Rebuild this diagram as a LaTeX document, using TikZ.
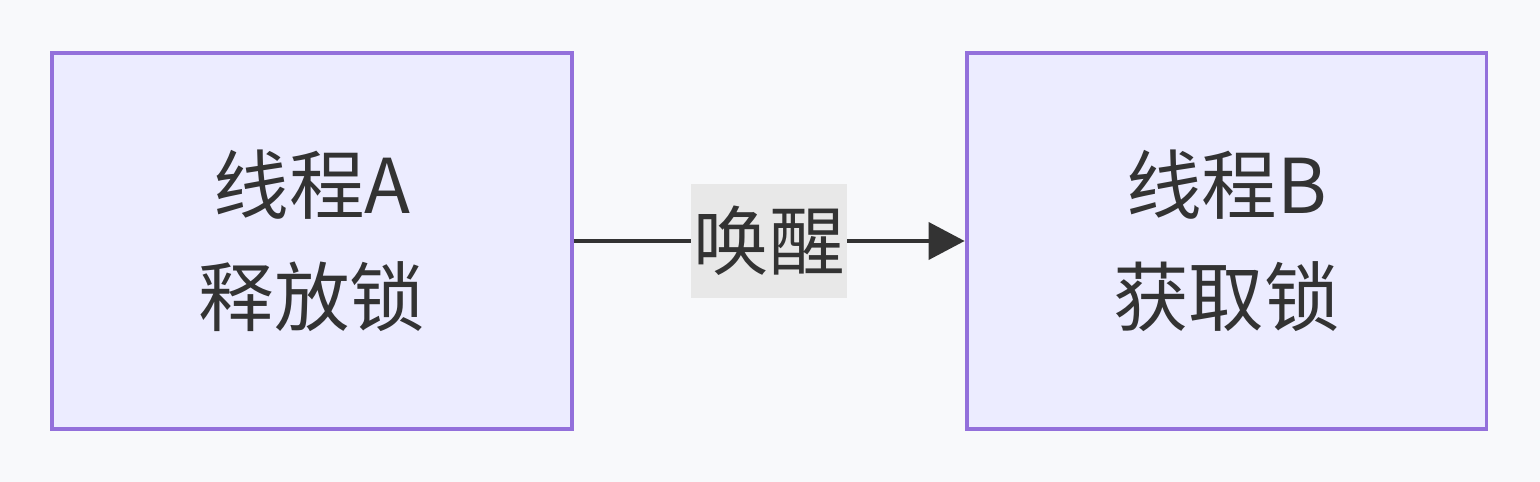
\documentclass[tikz,border=0pt]{standalone}
\usepackage{fontspec}
\setmainfont{Noto Sans CJK SC}
\usetikzlibrary{arrows.meta}
\definecolor{bgcol}{HTML}{F8F9FB}
\definecolor{boxfill}{HTML}{ECECFF}
\definecolor{boxline}{HTML}{9370DB}
\definecolor{ink}{HTML}{333333}
\definecolor{lblfill}{HTML}{E8E8E8}

\begin{document}
\begin{tikzpicture}[x=0.02cm, y=-0.02cm,
    thread/.style={draw=boxline, fill=boxfill, line width=2.2pt, minimum width=10.4cm,
      minimum height=7.52cm, inner sep=0pt, text=ink, align=center,
      font=\fontsize{43}{64}\selectfont},
    wake/.style={fill=lblfill, text=ink, inner xsep=1.5pt, minimum height=2.3cm,
      font=\fontsize{43}{50}\selectfont},
    link/.style={draw=ink, line width=2.2pt, -{Triangle[length=0.72cm, width=0.74cm]}}]
  \fill[bgcol] (0,0) rectangle (1540,482);
  \node[thread] (ta) at (312,241) {线程A\\释放锁};
  \node[thread] (tb) at (1226.5,241) {线程B\\获取锁};
  \draw[link] (ta) -- node[wake] (lbl) {唤醒} (tb);
\end{tikzpicture}
\end{document}
